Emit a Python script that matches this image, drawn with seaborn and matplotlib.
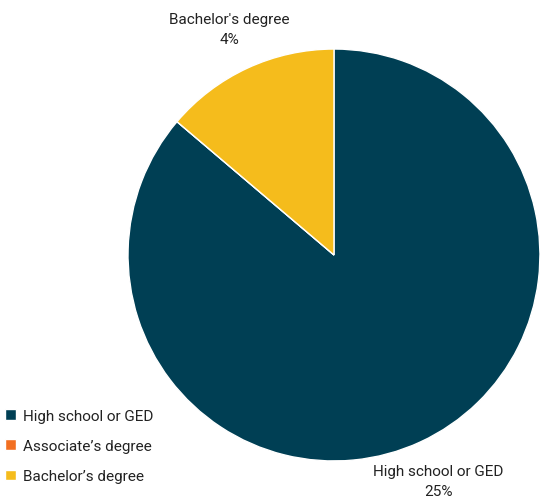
import matplotlib.pyplot as plt
import seaborn as sns

# Education levels and share values
categories = ["High school or GED", "Associate’s degree", "Bachelor’s degree"]
values = [25, 0, 4]
value_labels = ["25%", "0%", "4%"]
colors = ["#003f54", "#f26f21", "#f5bc1c"]

sns.set_theme(style="white")
plt.rcParams['font.family'] = ['Roboto', 'DejaVu Sans']

fig = plt.figure(figsize=(5.42, 5.02), dpi=100)
ax = fig.add_axes([0.2362, 0.0797, 0.760, 0.8207])

palette = sns.color_palette(colors)
pie_labels = [f"{c.replace('’', chr(39))}\n{v}" if val > 0 else ""
              for c, v, val in zip(categories, value_labels, values)]
wedges, texts = ax.pie(values, colors=palette, startangle=90, counterclock=False,
                       labels=pie_labels, labeldistance=1.21,
                       textprops=dict(fontsize=11, color="#222222", linespacing=1.55))
for t in texts:
    t.set_ha("center")
    t.set_va("center")
ax.set_xlim(-1, 1)
ax.set_ylim(-1, 1)
ax.set_aspect("equal")

fig.legend(wedges, categories, loc="lower left", bbox_to_anchor=(-0.016, 0.008),
           frameon=False, fontsize=11, handlelength=0.7, handleheight=0.7,
           handletextpad=0.5, labelspacing=1.05, labelcolor="#222222")

fig.savefig("out.png", dpi=100)
